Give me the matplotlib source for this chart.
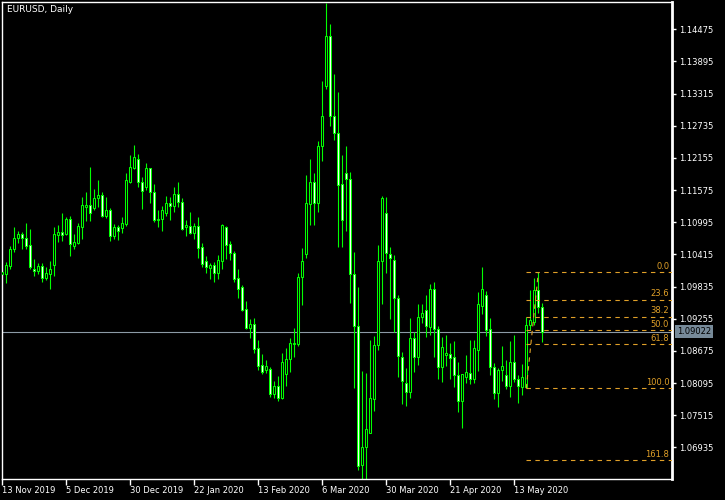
import numpy as np
import matplotlib
matplotlib.use('Agg')
import matplotlib.pyplot as plt
import matplotlib.transforms as mtransforms

title = 'EURUSD, Daily'

# daily bars, 13 Nov 2019 .. 22 May 2020
opens = [1.1006, 1.1006, 1.1020, 1.1051, 1.1071, 1.1078, 1.1072, 1.1058, 1.1015, 1.1011,
         1.1020, 1.0999, 1.1006, 1.1022, 1.1076, 1.1082, 1.1078, 1.1105, 1.1056, 1.1062,
         1.1091, 1.1127, 1.1130, 1.1125, 1.1143, 1.1148, 1.1110, 1.1121, 1.1074, 1.1091,
         1.1089, 1.1096, 1.1173, 1.1197, 1.1213, 1.1172, 1.1163, 1.1197, 1.1154, 1.1103,
         1.1105, 1.1116, 1.1134, 1.1128, 1.1150, 1.1136, 1.1091, 1.1092, 1.1080, 1.1092,
         1.1055, 1.1029, 1.1017, 1.1022, 1.1008, 1.1029, 1.1091, 1.1060, 1.1044, 1.0999,
         1.0982, 1.0943, 1.0908, 1.0916, 1.0872, 1.0842, 1.0833, 1.0834, 1.0789, 1.0804,
         1.0782, 1.0825, 1.0852, 1.0880, 1.0880, 1.1000, 1.1042, 1.1132, 1.1172, 1.1134,
         1.1237, 1.1345, 1.1435, 1.1291, 1.1260, 1.1168, 1.1188, 1.1177, 1.1006, 1.0912,
         1.0661, 1.0694, 1.0720, 1.0780, 1.0879, 1.1029, 1.1116, 1.1042, 1.1031, 1.0962,
         1.0856, 1.0809, 1.0793, 1.0890, 1.0856, 1.0928, 1.0941, 1.0910, 1.0980, 1.0907,
         1.0838, 1.0860, 1.0861, 1.0856, 1.0824, 1.0777, 1.0820, 1.0827, 1.0816, 1.0869,
         1.0948, 1.0968, 1.0907, 1.0838, 1.0791, 1.0833, 1.0824, 1.0804, 1.0847, 1.0816,
         1.0802, 1.0802, 1.0914, 1.0919, 1.0977, 1.0946]
highs = [1.1015, 1.1027, 1.1056, 1.1091, 1.1083, 1.1082, 1.1098, 1.1087, 1.1033, 1.1026,
         1.1026, 1.1018, 1.1029, 1.1091, 1.1094, 1.1116, 1.1109, 1.1110, 1.1078, 1.1098,
         1.1145, 1.1154, 1.1199, 1.1159, 1.1175, 1.1154, 1.1145, 1.1125, 1.1096, 1.1094,
         1.1109, 1.1188, 1.1220, 1.1238, 1.1222, 1.1181, 1.1206, 1.1198, 1.1168, 1.1121,
         1.1128, 1.1146, 1.1145, 1.1163, 1.1173, 1.1143, 1.1103, 1.1118, 1.1098, 1.1109,
         1.1062, 1.1038, 1.1026, 1.1027, 1.1040, 1.1096, 1.1092, 1.1065, 1.1047, 1.1015,
         1.0986, 1.0957, 1.0925, 1.0926, 1.0888, 1.0861, 1.0851, 1.0838, 1.0813, 1.0822,
         1.0863, 1.0872, 1.0890, 1.0908, 1.1008, 1.1053, 1.1184, 1.1213, 1.1188, 1.1246,
         1.1354, 1.1495, 1.1457, 1.1367, 1.1334, 1.1220, 1.1237, 1.1190, 1.1045, 1.0982,
         1.0831, 1.0827, 1.0888, 1.0894, 1.1058, 1.1146, 1.1145, 1.1054, 1.1040, 1.0968,
         1.0865, 1.0836, 1.0926, 1.0901, 1.0952, 1.0952, 1.0968, 1.0988, 1.0991, 1.0912,
         1.0892, 1.0897, 1.0881, 1.0885, 1.0847, 1.0825, 1.0860, 1.0888, 1.0887, 1.0973,
         1.1018, 1.0975, 1.0926, 1.0845, 1.0836, 1.0876, 1.0851, 1.0885, 1.0897, 1.0824,
         1.0843, 1.0928, 1.0977, 1.0999, 1.1009, 1.0953]
lows = [1.1002, 1.0990, 1.1015, 1.1045, 1.1062, 1.1051, 1.1051, 1.1015, 1.1002, 1.1006,
        1.0991, 1.0995, 1.0979, 1.1002, 1.1063, 1.1065, 1.1076, 1.1038, 1.1051, 1.1060,
        1.1069, 1.1101, 1.1101, 1.1121, 1.1127, 1.1109, 1.1107, 1.1065, 1.1069, 1.1067,
        1.1080, 1.1092, 1.1170, 1.1195, 1.1163, 1.1123, 1.1157, 1.1134, 1.1100, 1.1091,
        1.1083, 1.1110, 1.1103, 1.1118, 1.1127, 1.1085, 1.1074, 1.1079, 1.1069, 1.1035,
        1.1018, 1.1008, 1.0997, 1.0991, 1.0997, 1.1015, 1.1033, 1.1031, 1.0991, 1.0962,
        1.0940, 1.0907, 1.0890, 1.0863, 1.0833, 1.0825, 1.0827, 1.0784, 1.0782, 1.0777,
        1.0781, 1.0804, 1.0829, 1.0856, 1.0876, 1.0950, 1.1035, 1.1094, 1.1094, 1.1118,
        1.1210, 1.1339, 1.1273, 1.1248, 1.1054, 1.1054, 1.1083, 1.0953, 1.0800, 1.0652,
        1.0636, 1.0636, 1.0720, 1.0759, 1.0869, 1.0952, 1.1008, 1.0925, 1.0901, 1.0820,
        1.0771, 1.0768, 1.0782, 1.0829, 1.0842, 1.0917, 1.0892, 1.0897, 1.0856, 1.0816,
        1.0811, 1.0840, 1.0816, 1.0802, 1.0757, 1.0728, 1.0809, 1.0807, 1.0809, 1.0831,
        1.0934, 1.0894, 1.0824, 1.0780, 1.0766, 1.0813, 1.0798, 1.0784, 1.0811, 1.0773,
        1.0788, 1.0800, 1.0905, 1.0914, 1.0935, 1.0883]
closes = [1.1009, 1.1022, 1.1051, 1.1072, 1.1078, 1.1072, 1.1056, 1.1018, 1.1011, 1.1020,
          1.0999, 1.1008, 1.1015, 1.1078, 1.1082, 1.1076, 1.1105, 1.1060, 1.1063, 1.1092,
          1.1130, 1.1130, 1.1116, 1.1143, 1.1148, 1.1110, 1.1121, 1.1074, 1.1091, 1.1083,
          1.1098, 1.1175, 1.1199, 1.1217, 1.1172, 1.1155, 1.1197, 1.1154, 1.1103, 1.1105,
          1.1121, 1.1134, 1.1128, 1.1150, 1.1136, 1.1087, 1.1094, 1.1080, 1.1092, 1.1053,
          1.1024, 1.1018, 1.1022, 1.1008, 1.1031, 1.1094, 1.1058, 1.1044, 1.0997, 1.0980,
          1.0941, 1.0908, 1.0916, 1.0870, 1.0840, 1.0829, 1.0840, 1.0789, 1.0804, 1.0782,
          1.0847, 1.0852, 1.0881, 1.0881, 1.1000, 1.1029, 1.1134, 1.1172, 1.1134, 1.1237,
          1.1291, 1.1435, 1.1291, 1.1260, 1.1166, 1.1103, 1.1177, 1.1006, 1.0912, 1.0659,
          1.0694, 1.0726, 1.0782, 1.0879, 1.1029, 1.1143, 1.1044, 1.1035, 1.0962, 1.0858,
          1.0813, 1.0793, 1.0890, 1.0856, 1.0928, 1.0935, 1.0912, 1.0980, 1.0907, 1.0838,
          1.0874, 1.0863, 1.0854, 1.0824, 1.0777, 1.0825, 1.0829, 1.0816, 1.0872, 1.0952,
          1.0980, 1.0905, 1.0838, 1.0791, 1.0833, 1.0840, 1.0804, 1.0847, 1.0816, 1.0804,
          1.0820, 1.0914, 1.0923, 1.0977, 1.0946, 1.09022]

date_labels = ['13 Nov 2019', '5 Dec 2019', '30 Dec 2019', '22 Jan 2020', '13 Feb 2020',
               '6 Mar 2020', '30 Mar 2020', '21 Apr 2020', '13 May 2020']
price_ticks = [1.14475, 1.13895, 1.13315, 1.12735, 1.12155, 1.11575, 1.10995,
               1.10415, 1.09835, 1.09255, 1.08675, 1.08095, 1.07515, 1.06935]

fib_levels = [0.0, 23.6, 38.2, 50.0, 61.8, 100.0, 161.8]
fib_high = 1.1009
fib_low = 1.0800
fib_start_bar = 131
fib_end_bar = 134
last_price = 1.09022

green = '#00ff00'
orange = '#e0a028'

o = np.array(opens)
h = np.array(highs)
l = np.array(lows)
c = np.array(closes)
x = np.arange(len(o))

fig = plt.figure(figsize=(7.25, 5), dpi=100, facecolor='black')
ax = fig.add_axes([2 / 725, 21 / 500, 670 / 725, 477 / 500], facecolor='black')

# current price line
ax.axhline(last_price, color='#8c9aa6', lw=0.8, zorder=1)

# wicks + bodies
ax.vlines(x, l, h, color=green, lw=0.8, zorder=2)
bull = c >= o
face = np.where(bull, 'black', 'white')
ax.bar(x, np.abs(c - o), bottom=np.minimum(o, c), width=0.55,
       color=face, edgecolor=green, linewidth=0.75, zorder=3)

ax.set_xlim(-0.075, 167.425)
ax.set_ylim(1.06364, 1.14968)

# fibonacci retracement
xmax = ax.get_xlim()[1]
fib_prices = [fib_high - lv / 100 * (fib_high - fib_low) for lv in fib_levels]
ax.hlines(fib_prices, fib_start_bar, xmax, colors=orange, lw=0.8,
          linestyles=(0, (4, 4)), zorder=4)
ax.plot([fib_start_bar, fib_end_bar], [fib_low, fib_high], color=orange, lw=0.8,
        ls=(0, (4, 4)), zorder=4)
for lv, p in zip(fib_levels, fib_prices):
    ax.annotate('%.1f' % lv, xy=(1, p), xycoords=('axes fraction', 'data'),
                xytext=(-2, 1), textcoords='offset points', ha='right', va='bottom',
                color=orange, fontsize=6)

# axes styling
for s in ax.spines.values():
    s.set_color('white')
    s.set_linewidth(1)
ax.spines['right'].set_linewidth(2)

ax.yaxis.tick_right()
ax.set_yticks(price_ticks)
ax.set_yticklabels(['%.5f' % p for p in price_ticks])
ax.set_xticks(range(0, 16 * len(date_labels), 16))
ax.set_xticklabels(date_labels)
for lab in ax.get_xticklabels():
    lab.set_ha('left')
ax.tick_params(colors='white', labelsize=6, length=3, width=1, pad=2)
ax.tick_params(axis='x', length=4, pad=1)

# last price tag
trans = mtransforms.blended_transform_factory(ax.transAxes, ax.transData)
ax.text(1.0075, last_price, '%.5f' % last_price, transform=trans, ha='left', va='center',
        fontsize=6, color='black', clip_on=False, zorder=6,
        bbox=dict(facecolor='#778a99', edgecolor='none', pad=1.6))

ax.text(0.008, 0.993, title, transform=ax.transAxes, ha='left', va='top',
        color='white', fontsize=6.5)

fig.savefig('out.png', dpi=100, facecolor='black')
